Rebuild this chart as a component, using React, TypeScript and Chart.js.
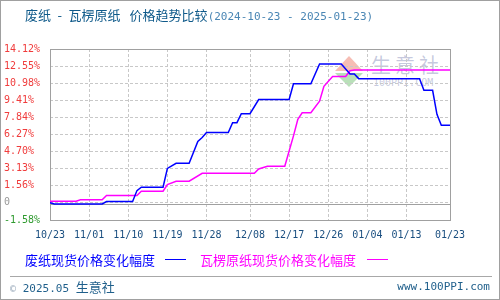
import React, { useEffect, useRef } from "react";
import { Chart, registerables } from "chart.js";

Chart.register(...registerables);

const xTickDays = [0, 9, 18, 27, 36, 46, 55, 64, 73, 82, 92];
const xTickLabels = ["10/23", "11/01", "11/10", "11/19", "11/28", "12/08", "12/17", "12/26", "01/04", "01/13", "01/23"];
const yTicks = [-1.58, 0, 1.56, 3.13, 4.7, 6.27, 7.84, 9.41, 10.98, 12.55, 14.12];

const wasteDays = [0, 1, 12, 13, 19, 20, 21, 26, 27, 29, 32, 34, 35, 36, 41, 42, 43, 44, 46, 48, 55, 56, 60, 62, 67, 69, 70, 71, 85, 86, 88, 89, 90, 92];
const wasteVals = [0.0, -0.1, -0.1, 0.12, 0.12, 1.12, 1.43, 1.43, 3.16, 3.62, 3.62, 5.63, 5.99, 6.45, 6.45, 7.36, 7.36, 8.18, 8.18, 9.48, 9.48, 10.92, 10.92, 12.74, 12.74, 11.83, 11.83, 11.4, 11.4, 10.33, 10.33, 8.12, 7.11, 7.11];

const paperDays = [0, 6, 7, 12, 13, 20, 21, 26, 27, 29, 32, 35, 47, 48, 50, 54, 56, 57, 58, 60, 62, 63, 65, 68, 69, 70, 92];
const paperVals = [0.15, 0.15, 0.27, 0.27, 0.67, 0.67, 1.07, 1.07, 1.67, 1.98, 1.98, 2.71, 2.71, 3.1, 3.35, 3.35, 6.14, 7.66, 8.27, 8.27, 9.33, 10.7, 11.6, 11.6, 12.13, 12.2, 12.2];

const framePlugin = {
  id: "frame",
  beforeDatasetsDraw(chart: any) {
    const { ctx, chartArea } = chart;
    const y0 = chart.scales.y.getPixelForValue(0);
    ctx.save();
    ctx.strokeStyle = "#a0a0a0";
    ctx.lineWidth = 1;
    ctx.setLineDash([]);
    ctx.beginPath();
    ctx.moveTo(chartArea.left, Math.round(y0) + 1.5);
    ctx.lineTo(chartArea.right, Math.round(y0) + 1.5);
    ctx.stroke();
    ctx.strokeRect(
      Math.round(chartArea.left) + 0.5,
      Math.round(chartArea.top) + 0.5,
      Math.round(chartArea.right - chartArea.left),
      Math.round(chartArea.bottom - chartArea.top)
    );
    ctx.restore();
  },
};

const cjk = "'Noto Sans CJK SC', 'Noto Sans', sans-serif";
const mono = "'DejaVu Sans Mono', 'Liberation Mono', monospace";

export default function App() {
  const ref = useRef<HTMLCanvasElement | null>(null);

  useEffect(() => {
    if (!ref.current) return;
    const chart = new Chart(ref.current, {
      type: "line",
      data: {
        datasets: [
          {
            label: "废纸现货价格变化幅度",
            data: wasteDays.map((d, i) => ({ x: d, y: wasteVals[i] })),
            borderColor: "#0000ff",
            borderWidth: 1.5,
            pointRadius: 0,
            tension: 0,
            fill: false,
          },
          {
            label: "瓦楞原纸现货价格变化幅度",
            data: paperDays.map((d, i) => ({ x: d, y: paperVals[i] })),
            borderColor: "#ff00ff",
            borderWidth: 1.5,
            pointRadius: 0,
            tension: 0,
            fill: false,
          },
        ],
      },
      options: {
        animation: false,
        responsive: false,
        maintainAspectRatio: false,
        layout: { padding: { left: 4, top: 49, right: 50, bottom: 50 } },
        plugins: {
          legend: { display: false },
          tooltip: { enabled: false },
          title: { display: false },
        },
        scales: {
          x: {
            type: "linear",
            min: 0,
            max: 92,
            afterBuildTicks: (scale: any) => {
              scale.ticks = xTickDays.map((v) => ({ value: v }));
            },
            afterFit: (scale: any) => {
              scale.height = 30;
            },
            ticks: {
              autoSkip: false,
              maxRotation: 0,
              padding: 9,
              color: "#1a4f80",
              font: { family: mono, size: 10 },
              callback: (v: any) => {
                const i = xTickDays.indexOf(Number(v));
                return i >= 0 ? xTickLabels[i] : "";
              },
            },
            grid: { color: "#c8c8c8", lineWidth: 1, drawTicks: false },
            border: { display: false, dash: [3, 2] },
          },
          y: {
            min: -1.58,
            max: 14.12,
            afterBuildTicks: (scale: any) => {
              scale.ticks = yTicks.map((v) => ({ value: v }));
            },
            afterFit: (scale: any) => {
              scale.width = 46;
            },
            ticks: {
              autoSkip: false,
              crossAlign: "far",
              padding: 4,
              font: { family: mono, size: 10 },
              color: (c: any) => {
                const v = c.tick ? c.tick.value : 1;
                if (v === 0) return "#999999";
                if (v < 0) return "#2e9a2e";
                return "#f03c3c";
              },
              callback: (v: any) => (Number(v) === 0 ? "0" : Number(v).toFixed(2) + "%"),
            },
            grid: { color: "#c8c8c8", lineWidth: 1, drawTicks: false },
            border: { display: false, dash: [3, 2] },
          },
        },
      },
      plugins: [framePlugin],
    });
    return () => chart.destroy();
  }, []);

  return (
    <div
      style={{
        position: "absolute",
        left: 0,
        top: 0,
        width: 500,
        height: 300,
        boxSizing: "border-box",
        border: "1px solid #a0a0a0",
        background: "#ffffff",
        overflow: "hidden",
      }}
    >
      {/* watermark */}
      <div style={{ position: "absolute", left: 334, top: 55, width: 28, height: 32, opacity: 0.35 }}>
        <div style={{ position: "absolute", left: 0, top: 0, width: 0, height: 0, borderLeft: "14px solid transparent", borderRight: "14px solid transparent", borderBottom: "15px solid #e8442c" }} />
        <div style={{ position: "absolute", left: 0, top: 17, width: 0, height: 0, borderLeft: "14px solid transparent", borderRight: "14px solid transparent", borderTop: "14px solid #3aa83a" }} />
      </div>
      <div style={{ position: "absolute", left: 370, top: 52, fontFamily: cjk, fontSize: 20, letterSpacing: 4, color: "rgba(90,100,160,0.35)", whiteSpace: "pre", lineHeight: "24px" }}>生意社</div>
      <div style={{ position: "absolute", left: 372, top: 76, fontFamily: mono, fontSize: 10, color: "rgba(90,100,160,0.35)", whiteSpace: "pre", lineHeight: "12px" }}>100PPI.COM</div>

      <canvas ref={ref} width={500} height={300} style={{ position: "absolute", left: -1, top: -1, width: 500, height: 300 }} />

      {/* title */}
      <div style={{ position: "absolute", left: 24, top: 5, whiteSpace: "pre", lineHeight: "18px", color: "#0f5a8a", fontFamily: cjk, fontSize: 13 }}>
        {"废纸\u2002-\u2002瓦楞原纸\u2002\u2009价格趋势比较"}
        <span style={{ fontFamily: mono, fontSize: 11, color: "#4a86b4" }}>(2024-10-23 - 2025-01-23)</span>
      </div>

      {/* legend */}
      <div style={{ position: "absolute", left: 24, top: 250, whiteSpace: "pre", lineHeight: "18px", color: "#0000ff", fontFamily: cjk, fontSize: 13 }}>废纸现货价格变化幅度</div>
      <div style={{ position: "absolute", left: 164, top: 258, width: 21, height: 1, background: "#0000ff" }} />
      <div style={{ position: "absolute", left: 199, top: 250, whiteSpace: "pre", lineHeight: "18px", color: "#ff00ff", fontFamily: cjk, fontSize: 13 }}>瓦楞原纸现货价格变化幅度</div>
      <div style={{ position: "absolute", left: 366, top: 258, width: 21, height: 1, background: "#ff00ff" }} />

      {/* footer */}
      <div style={{ position: "absolute", left: 9, top: 275, width: 482, height: 1, background: "#a8a8a8" }} />
      <div style={{ position: "absolute", left: 9, top: 277, whiteSpace: "pre", lineHeight: "18px", color: "#1f5f8b", fontFamily: mono, fontSize: 11 }}>
        <span style={{ color: "#9aaabb", fontSize: 10 }}>©</span> 2025.05 <span style={{ fontFamily: cjk, fontSize: 13 }}>生意社</span>
      </div>
      <div style={{ position: "absolute", right: 9, top: 277, whiteSpace: "pre", lineHeight: "18px", color: "#1f5f8b", fontFamily: mono, fontSize: 11 }}>www.100PPI.com</div>
    </div>
  );
}
